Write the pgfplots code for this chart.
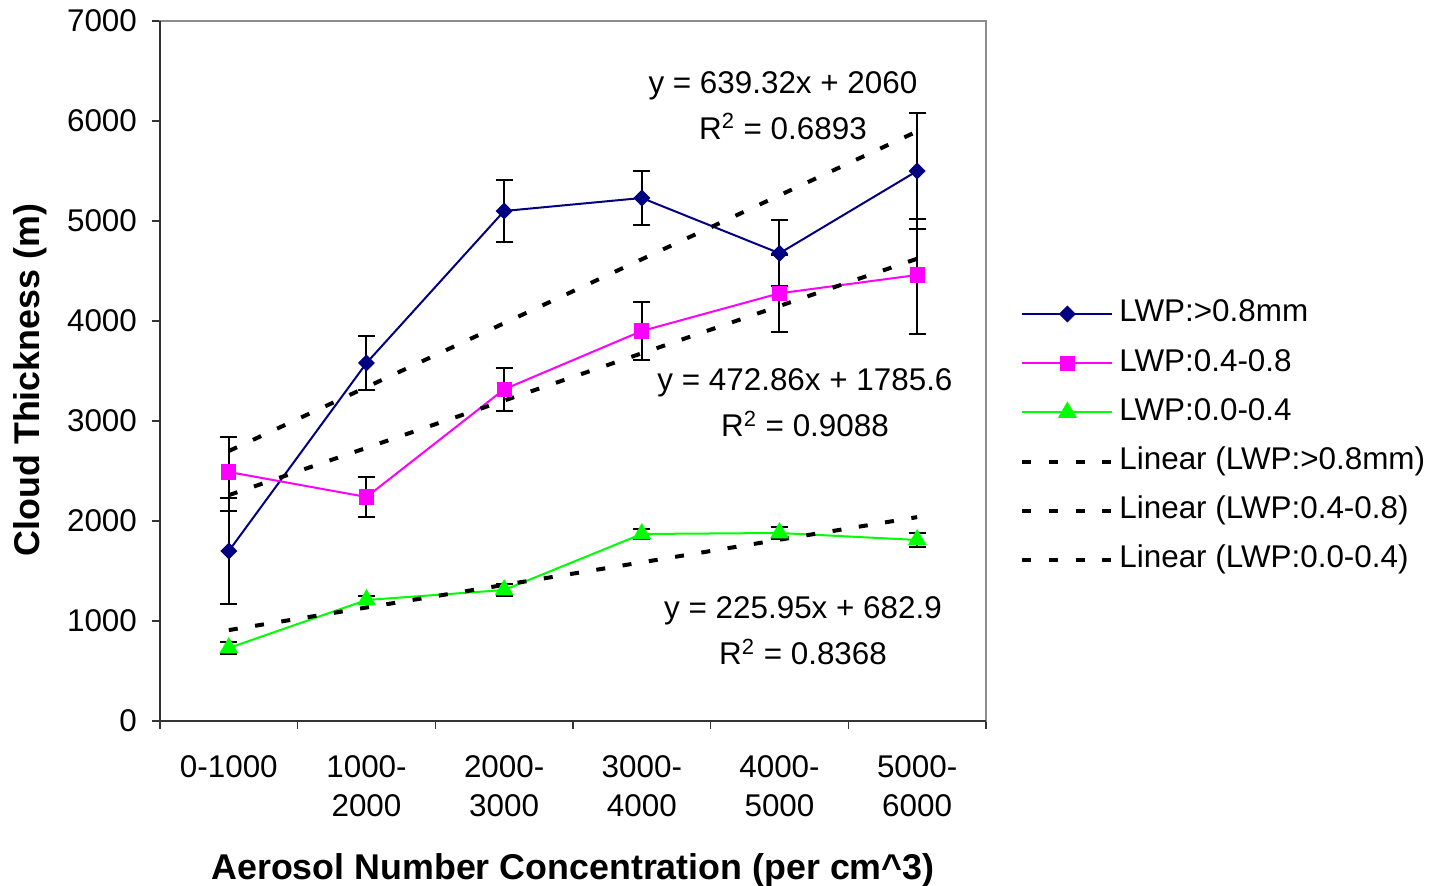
\documentclass[border=0pt]{standalone}
\usepackage{fontspec}
\setmainfont{Liberation Sans}
\usepackage{pgfplots}
\pgfplotsset{compat=1.18}
\definecolor{navyb}{RGB}{0,0,128}
\definecolor{magb}{RGB}{255,0,255}
\definecolor{greenb}{RGB}{0,255,0}
\begin{document}
\begin{tikzpicture}
\useasboundingbox (-80pt,-82.5pt) rectangle (640.5pt,360.5pt);
\begin{axis}[
  at={(0,0)}, anchor=south west,
  scale only axis, width=413pt, height=350pt,
  xmin=0, xmax=6, ymin=0, ymax=7000,
  clip=false,
  axis line style={draw=black!45, line width=1pt},
  tick pos=left, tick align=outside,
  major tick length=4pt,
  tick style={black!80, line width=0.6pt},
  ytick={0,1000,...,7000},
  xtick={0,1,...,6}, xticklabels={},
  extra x ticks={0.5,1.5,2.5,3.5,4.5,5.5},
  extra x tick labels={0-1000,{1000-\\2000},{2000-\\3000},{3000-\\4000},{4000-\\5000},{5000-\\6000}},
  extra x tick style={major tick length=0pt, xticklabel style={align=center, anchor=north, yshift=-14pt}},
  scaled y ticks=false,
  /pgf/number format/1000 sep={},
  /pgf/number format/assume math mode=true,
  ticklabel style={font=\fontsize{15.7}{19.5}\selectfont},
  yticklabel style={xshift=-4pt},
  ylabel={Cloud Thickness (m)},
  xlabel={Aerosol Number Concentration (per cm\^{}3)},
  label style={font=\fontsize{17.9}{20}\selectfont\bfseries},
  ylabel style={at={(axis description cs:-0.1574,0.487)}, anchor=center},
  xlabel style={at={(axis description cs:0.5,-0.2128)}, anchor=center},
  legend image code/.code={\draw[mark repeat=2,mark phase=2] plot coordinates {(0pt,0pt)(22.5pt,0pt)(45pt,0pt)};},
  legend cell align=left,
  legend style={draw=none, fill=none, at={(axis description cs:1.0412,0.4057)}, anchor=west,
    inner sep=0pt, row sep=10.6pt, column sep=2.5pt,
    font=\fontsize{15.7}{18}\selectfont,
    nodes={inner sep=0pt, text height=11pt, text depth=3pt}},
  error bars/y dir=both, error bars/y explicit,
  error bars/error bar style={black, line width=1pt},
  error bars/error mark options={rotate=90, black, mark size=4.25pt, line width=1pt},
]
\addplot[navyb, line width=1pt, mark=square*, mark size=2.5pt, mark options={rotate=45, solid, fill=navyb}]
  coordinates {(0.5,1700) +- (0,533) (1.5,3580) +- (0,270) (2.5,5100) +- (0,310) (3.5,5230) +- (0,270) (4.5,4677) +- (0,330) (5.5,5500) +- (0,583)};
\addlegendentry{LWP:>0.8mm}
\addplot[magb, line width=1pt, mark=square*, mark size=3.3pt, mark options={solid, fill=magb}]
  coordinates {(0.5,2490) += (0,353) -= (0,387) (1.5,2240) +- (0,200) (2.5,3317) +- (0,215) (3.5,3900) +- (0,290) (4.5,4277) +- (0,385) (5.5,4460) += (0,555) -= (0,593)};
\addlegendentry{LWP:0.4-0.8}
\addplot[greenb, line width=1pt, mark=triangle*, mark size=4.5pt, mark options={solid, fill=greenb}]
  coordinates {(0.5,730) +- (0,57) (1.5,1210) +- (0,40) (2.5,1310) +- (0,60) (3.5,1870) +- (0,50) (4.5,1880) +- (0,63) (5.5,1810) +- (0,67)};
\addlegendentry{LWP:0.0-0.4}
\addplot[black, line width=2pt, dash pattern=on 4.5pt off 8.8pt, no marks, error bars/y dir=none]
  coordinates {(0.5,2699.3) (1.5,3338.6) (2.5,3978.0) (3.5,4617.3) (4.5,5256.6) (5.5,5895.9)};
\addlegendentry{Linear (LWP:>0.8mm)}
\addplot[black, line width=2pt, dash pattern=on 4.5pt off 8.8pt, no marks, error bars/y dir=none]
  coordinates {(0.5,2258.5) (1.5,2731.3) (2.5,3204.2) (3.5,3677.0) (4.5,4149.9) (5.5,4622.8)};
\addlegendentry{Linear (LWP:0.4-0.8)}
\addplot[black, line width=2pt, dash pattern=on 4.5pt off 8.8pt, no marks, error bars/y dir=none]
  coordinates {(0.5,908.9) (1.5,1134.8) (2.5,1360.8) (3.5,1586.7) (4.5,1812.7) (5.5,2038.6)};
\addlegendentry{Linear (LWP:0.0-0.4)}
\draw[black!80, line width=1pt] (rel axis cs:0,1) -- (rel axis cs:0,0) -- (rel axis cs:1,0);
\node[align=center, font=\fontsize{15.7}{23}\selectfont] at (axis cs:4.525,6155) {y = 639.32x + 2060\\R\textsuperscript{2} = 0.6893};
\node[align=center, font=\fontsize{15.7}{23}\selectfont] at (axis cs:4.685,3180) {y = 472.86x + 1785.6\\R\textsuperscript{2} = 0.9088};
\node[align=center, font=\fontsize{15.7}{23}\selectfont] at (axis cs:4.671,900) {y = 225.95x + 682.9\\R\textsuperscript{2} = 0.8368};
\end{axis}
\end{tikzpicture}
\end{document}
